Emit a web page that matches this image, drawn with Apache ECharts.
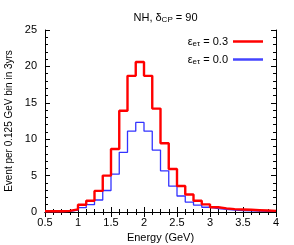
<!DOCTYPE html>
<html><head><meta charset="utf-8">
<script src="https://cdn.jsdelivr.net/npm/echarts@6/dist/echarts.min.js"></script>
<style>html,body{margin:0;padding:0;background:#fff}#c{width:294px;height:245px}</style>
</head><body><div id="c"></div>
<script>
const binEdges = [0.5,0.625,0.75,0.875,1.0,1.125,1.25,1.375,1.5,1.625,1.75,1.875,2.0,2.125,2.25,2.375,2.5,2.625,2.75,2.875,3.0,3.125,3.25,3.375,3.5,3.625,3.75,3.875,4.0];
const eps03 = [0.1,0.1,0.15,0.37,1.0,1.55,2.9,5.0,8.65,13.9,18.7,20.6,18.7,14.2,9.45,5.9,3.57,2.4,1.55,1.05,0.65,0.5,0.4,0.35,0.3,0.25,0.2,0.15];
const eps00 = [0.05,0.05,0.1,0.25,0.6,1.0,1.65,2.95,5.2,8.2,11.1,12.3,11.1,8.5,5.65,3.55,2.2,1.37,0.95,0.65,0.45,0.35,0.25,0.2,0.15,0.12,0.1,0.08];
const xTicks = [0.5,1,1.5,2,2.5,3,3.5,4];
const yTicks = [0,5,10,15,20,25];
const names = ['ε_eτ = 0.3','ε_eτ = 0.0'];

function steps(vals){
  const pts = vals.map((v,i)=>[binEdges[i], v]);
  pts.push([binEdges[binEdges.length-1], vals[vals.length-1]]);
  return pts;
}
const font = 'Liberation Sans, Arial, sans-serif';
const chart = echarts.init(document.getElementById('c'), null, {renderer:'canvas'});
const axBase = {
  axisLine:{show:true,lineStyle:{color:'#000',width:1}},
  axisTick:{show:true,inside:true,length:5,lineStyle:{color:'#000'}},
  minorTick:{show:true,splitNumber:4,length:3,lineStyle:{color:'#000'}},
  splitLine:{show:false}
};
const yMinor = {minorTick:{show:true,splitNumber:5,length:3,lineStyle:{color:'#000'}}};
chart.setOption({
  animation:false,
  title:{
    text:'NH, δ{sub|CP} = 90', left:160.5, textAlign:'center', top:6,
    textStyle:{fontFamily:font,fontSize:11,fontWeight:'normal',color:'#000',
      rich:{sub:{fontFamily:font,fontSize:8,color:'#000',padding:[5,0,0,0]}}}
  },
  grid:{left:45,right:18,top:30,bottom:33,outerBoundsMode:'none',containLabel:false},
  legend:{
    orient:'vertical', right:31, top:36, align:'right', itemGap:6, padding:0,
    itemWidth:30, itemHeight:2.5,
    data:[{name:names[0],icon:'rect',itemStyle:{color:'#ff0000'}},{name:names[1],icon:'rect',itemStyle:{color:'#4444ff'}}],
    formatter:function(n){ return n==names[0] ? 'ε{sub|eτ} = 0.3' : 'ε{sub|eτ} = 0.0'; },
    textStyle:{fontFamily:font,fontSize:11,color:'#000',padding:[0,0,0,0],
      rich:{sub:{fontFamily:font,fontSize:8,color:'#000',padding:[5,0,0,0]}}}
  },
  xAxis:[
    Object.assign({type:'value',min:0.5,max:4,interval:0.5,position:'bottom',
      name:'Energy (GeV)',nameLocation:'middle',nameGap:19,
      nameTextStyle:{fontFamily:font,fontSize:11,color:'#000'},
      axisLabel:{fontFamily:font,fontSize:11,color:'#000',margin:5,formatter:v=>String(v)}},axBase),
    Object.assign({type:'value',min:0.5,max:4,interval:0.5,position:'top',
      axisLabel:{show:false}},axBase)
  ],
  yAxis:[
    Object.assign({type:'value',min:0,max:25,interval:5,position:'left',
      name:'Event per 0.125 GeV bin in 3yrs',nameLocation:'middle',nameGap:29,
      nameTextStyle:{fontFamily:font,fontSize:10,color:'#000'},
      axisLabel:{fontFamily:font,fontSize:11,color:'#000',margin:8}},axBase,yMinor),
    Object.assign({type:'value',min:0,max:25,interval:5,position:'right',
      axisLabel:{show:false}},axBase,yMinor)
  ],
  series:[
    {name:names[1],type:'line',step:'end',data:steps(eps00),symbol:'none',
      lineStyle:{color:'#3333ff',width:1.3},itemStyle:{color:'#4444ff'},z:2},
    {name:names[0],type:'line',step:'end',data:steps(eps03),symbol:'none',
      lineStyle:{color:'#ff0000',width:2.4},itemStyle:{color:'#ff0000'},z:3}
  ]
});
</script></body></html>
